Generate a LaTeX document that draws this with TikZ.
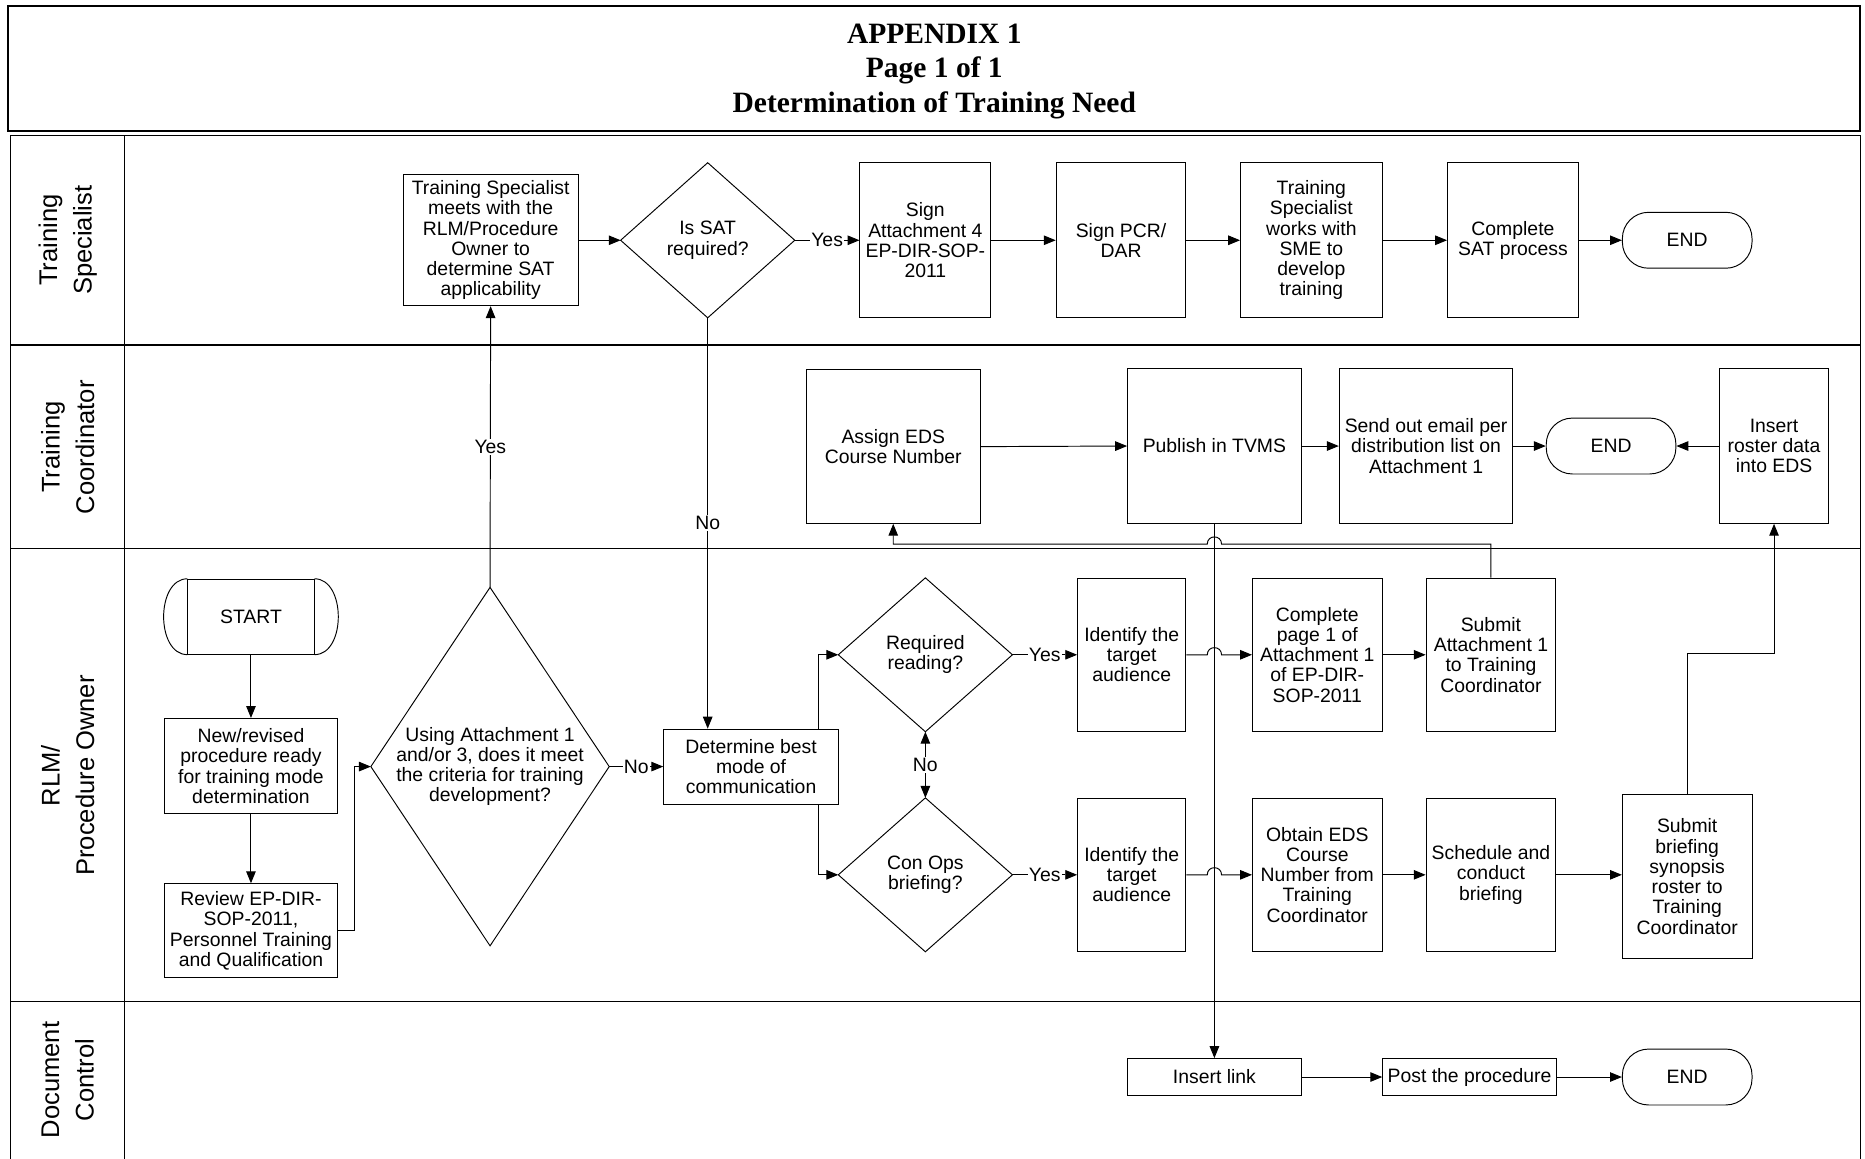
\documentclass[tikz,border=0pt]{standalone}
\usepackage{fontspec}
\setmainfont{Liberation Sans}
\newfontfamily\titlefont{Liberation Serif}
\usetikzlibrary{arrows.meta,calc}
\tikzset{
  every node/.style={font=\fontsize{16.3}{17}\selectfont},
  box/.style={draw, line width=0.8pt, rectangle, inner sep=0pt, align=center},
  dtext/.style={rectangle, inner sep=0pt, align=center},
  ddraw/.style={line width=0.8pt},
  term/.style={draw, line width=0.8pt, rectangle, rounded corners=22pt, inner sep=0pt, minimum width=109pt, minimum height=47pt},
  arr/.style={line width=0.8pt, -{Triangle[length=10pt,width=8pt]}},
  arrtwo/.style={line width=0.8pt, {Triangle[length=10pt,width=8pt]}-{Triangle[length=10pt,width=8pt]}},
  lbl/.style={fill=white, inner sep=1pt},
  lane/.style={line width=1.1pt},
  lanetext/.style={rotate=90, align=center, font=\fontsize{21.5}{29}\selectfont},
}
\begin{document}
\begin{tikzpicture}[x=1pt,y=-1pt]
\useasboundingbox (0,0) rectangle (1568,974);
% title
\draw[line width=1.6pt] (7,5) rectangle (1564,110);
\node[align=center, font=\titlefont\fontsize{24.8}{29}\selectfont\bfseries] (title) at (785.5,60) {APPENDIX 1\\Page 1 of 1\\Determination of Training Need};
% lanes
\draw[lane] (9,974) -- (9,114) -- (1564,114) -- (1564,974);
\draw[lane] (9,290) -- (1564,290);
\draw[lane] (9,461) -- (1564,461);
\draw[lane] (9,842) -- (1564,842);
\draw[line width=0.8pt] (105,114) -- (105,974);
\node[lanetext] (l1) at (57,202) {Training\\Specialist};
\node[lanetext] (l2) at (57,376) {Training\\Coordinator};
\node[lanetext] (l3) at (57,652) {RLM/\\Procedure Owner};
\node[lanetext] (l4) at (57,908) {Document\\Control};

% lane 1
\node[box, minimum width=147pt, minimum height=110pt] (ts) at (412.5,202) {Training Specialist\\meets with the\\RLM/Procedure\\Owner to\\determine SAT\\applicability};
\node[dtext, minimum width=146pt, minimum height=130pt] (sat) at (595,202) {Is SAT\\required?};
\draw[ddraw] (sat.north) -- (sat.east) -- (sat.south) -- (sat.west) -- cycle;
\node[box, minimum width=110pt, minimum height=130pt] (sa4) at (778,202) {Sign\\Attachment 4\\EP-DIR-SOP-\\2011};
\node[box, minimum width=109pt, minimum height=130pt] (pcr) at (942.5,202) {Sign PCR/\\DAR};
\node[box, minimum width=119pt, minimum height=130pt] (tsw) at (1102.5,202) {Training\\Specialist\\works with\\SME to\\develop\\training};
\node[box, minimum width=110pt, minimum height=130pt] (csat) at (1272,202) {Complete\\SAT process};
\node[term] (endone) at (1418.5,202) {END};

% lane 2
\node[box, minimum width=146pt, minimum height=129pt] (aeds) at (751,375.5) {Assign EDS\\Course Number};
\node[box, minimum width=146pt, minimum height=130pt] (pub) at (1021,375) {Publish in TVMS};
\node[box, minimum width=146pt, minimum height=130pt] (email) at (1199,375) {Send out email per\\distribution list on\\Attachment 1};
\node[term] (endtwo) at (1354.5,375) {END};
\node[box, minimum width=91pt, minimum height=130pt] (roster) at (1491.5,375) {Insert\\roster data\\into EDS};

% lane 3
\node[box, minimum width=106pt, minimum height=63pt] (start) at (211,518.5) {START};
\draw[line width=0.8pt] (start.north west) .. controls ($(start.north west)+(-26.7,0)$) and ($(start.south west)+(-26.7,0)$) .. (start.south west);
\draw[line width=0.8pt] (start.north east) .. controls ($(start.north east)+(26.7,0)$) and ($(start.south east)+(26.7,0)$) .. (start.south east);
\node[box, minimum width=146pt, minimum height=80pt] (new) at (211,644) {New/revised\\procedure ready\\for training mode\\determination};
\node[box, minimum width=146pt, minimum height=79pt] (rev) at (211,782.5) {Review EP-DIR-\\SOP-2011,\\Personnel Training\\and Qualification};
\node[dtext, minimum width=200pt, minimum height=301pt] (dia) at (412,644.5) {Using Attachment 1\\and/or 3, does it meet\\the criteria for training\\development?};
\draw[ddraw] (dia.north) -- (dia.east) -- (dia.south) -- (dia.west) -- cycle;
\node[box, minimum width=147pt, minimum height=63pt] (det) at (631.5,644.5) {Determine best\\mode of\\communication};
\node[dtext, minimum width=146pt, minimum height=129pt] (rr) at (778,550.5) {Required\\reading?};
\draw[ddraw] (rr.north) -- (rr.east) -- (rr.south) -- (rr.west) -- cycle;
\node[dtext, minimum width=146pt, minimum height=129pt] (co) at (778,735.5) {Con Ops\\briefing?};
\draw[ddraw] (co.north) -- (co.east) -- (co.south) -- (co.west) -- cycle;
\node[box, minimum width=91pt, minimum height=129pt] (idone) at (951.5,550.5) {Identify the\\target\\audience};
\node[box, minimum width=91pt, minimum height=129pt] (idtwo) at (951.5,735.5) {Identify the\\target\\audience};
\node[box, minimum width=109pt, minimum height=129pt] (cpone) at (1107.5,550.5) {Complete\\page 1 of\\Attachment 1\\of EP-DIR-\\SOP-2011};
\node[box, minimum width=109pt, minimum height=129pt] (obt) at (1107.5,735.5) {Obtain EDS\\Course\\Number from\\Training\\Coordinator};
\node[box, minimum width=109pt, minimum height=129pt] (subone) at (1253.5,550.5) {Submit\\Attachment 1\\to Training\\Coordinator};
\node[box, minimum width=109pt, minimum height=129pt] (sch) at (1253.5,735.5) {Schedule and\\conduct\\briefing};
\node[box, minimum width=109pt, minimum height=138pt] (sbr) at (1418.5,737) {Submit\\briefing\\synopsis\\roster to\\Training\\Coordinator};

% lane 4
\node[box, minimum width=146pt, minimum height=31pt] (ins) at (1021,905.5) {Insert link};
\node[box, minimum width=146pt, minimum height=31pt] (post) at (1235.5,905.5) {Post the procedure};
\node[term] (endthree) at (1418.5,905.5) {END};

% connectors lane 1
\draw[arr] (ts.east) -- (sat.west);
\draw[arr] (sat.east) -- node[lbl]{Yes} (sa4.west);
\draw[arr] (sa4.east) -- (pcr.west);
\draw[arr] (pcr.east) -- (tsw.west);
\draw[arr] (tsw.east) -- (csat.west);
\draw[arr] (csat.east) -- (endone.west);
% lane 2
\draw[arr] (aeds.east) -- (pub.west);
\draw[arr] (pub.east) -- (email.west);
\draw[arr] (email.east) -- (endtwo.west);
\draw[arr] (roster.west) -- (endtwo.east);
% lane 3
\draw[arr] (start.south) -- (new.north);
\draw[arr] (new.south) -- (rev.north);
\draw[arr] (rev.east) -- ++(14,0) |- (dia.west);
\draw[arr] (dia.north) -- node[lbl]{Yes} (ts.south);
\draw[arr] (dia.east) -- node[lbl]{No} (det.west);
\draw[arr] (sat.south) -- node[lbl]{No} (sat.south |- det.north);
\draw[arr] ([xshift=56.5pt]det.north) |- (rr.west);
\draw[arr] ([xshift=56.5pt]det.south) |- (co.west);
\draw[arrtwo] (rr.south) -- node[lbl]{No} (co.north);
\draw[arr] (rr.east) -- node[lbl]{Yes} (idone.west);
\draw[arr] (co.east) -- node[lbl]{Yes} (idtwo.west);
\coordinate (hone) at (pub.south |- idone.east);
\coordinate (htwo) at (pub.south |- idtwo.east);
\coordinate (hthree) at ($(pub.south)+(0,17)$);
\draw[arr] (idone.east) -- ($(hone)+(-6,0)$) .. controls ($(hone)+(-6,-8)$) and ($(hone)+(6,-8)$) .. ($(hone)+(6,0)$) -- (cpone.west);
\draw[arr] (idtwo.east) -- ($(htwo)+(-6,0)$) .. controls ($(htwo)+(-6,-8)$) and ($(htwo)+(6,-8)$) .. ($(htwo)+(6,0)$) -- (obt.west);
\draw[arr] (cpone.east) -- (subone.west);
\draw[arr] (obt.east) -- (sch.west);
\draw[arr] (sch.east) -- (sch.east -| sbr.west);
\draw[arr] (subone.north) |- ($(hthree)+(6,0)$) .. controls ($(hthree)+(6,-8)$) and ($(hthree)+(-6,-8)$) .. ($(hthree)+(-6,0)$) -| (aeds.south);
\draw[arr] (pub.south) -- (ins.north);
\draw[arr] (sbr.north) -- ++(0,-118) -| (roster.south);
% lane 4
\draw[arr] (ins.east) -- (post.west);
\draw[arr] (post.east) -- (endthree.west);
\end{tikzpicture}
\end{document}
